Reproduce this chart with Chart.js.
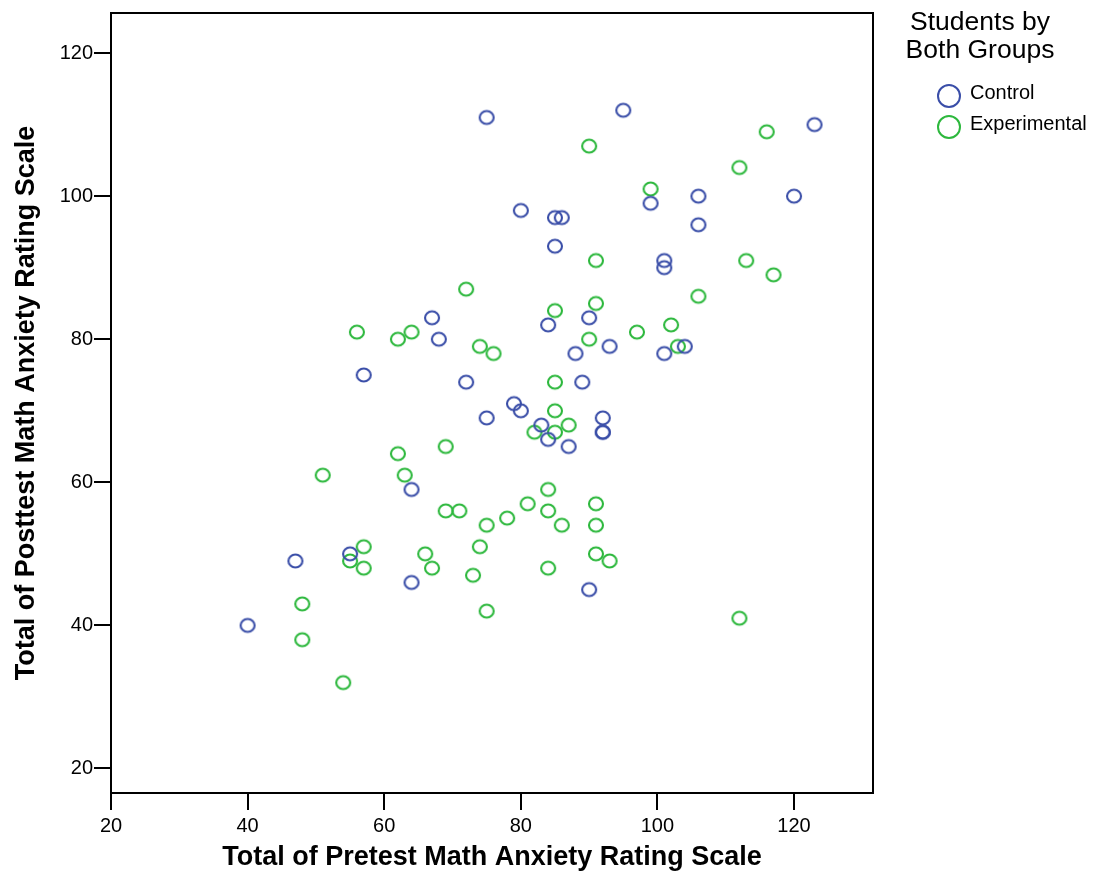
<!DOCTYPE html>
<html><head><meta charset="utf-8">
<script src="https://cdn.jsdelivr.net/npm/chart.js@4/dist/chart.umd.min.js"></script>
<style>html,body{margin:0;padding:0;background:#fff;}#wrap{width:1098px;height:879px;}</style>
</head><body><div id="wrap"><canvas id="c" width="1098" height="879"></canvas></div>
<script>
// ---- data ----
const seriesNames = ['Control', 'Experimental'];
const controlX = [75,95,123,80,85,86,99,106,106,120,85,101,101,67,90,84,68,57,93,88,104,101,72,89,79,80,75,92,92,92,83,84,87,64,47,55,64,90,40];
const controlY = [111,112,110,98,97,97,99,100,96,100,93,91,90,83,83,82,80,75,79,78,79,78,74,74,71,70,69,69,67,67,68,66,65,59,49,50,46,45,40];
const experimentalX = [90,99,116,112,91,113,117,72,106,91,85,56,64,62,97,102,74,76,90,103,85,85,87,82,85,69,62,63,51,84,69,71,81,91,84,78,75,86,91,74,57,66,91,55,93,57,67,84,73,48,75,112,48,54];
const experimentalY = [107,101,109,104,91,91,89,87,86,85,84,81,81,80,81,82,79,78,80,79,74,70,68,67,67,65,64,61,61,59,56,56,57,57,56,55,54,54,54,51,51,50,50,49,49,48,48,48,47,43,42,41,38,32];
const xTickValues = [20,40,60,80,100,120];
const yTickValues = [20,40,60,80,100,120];
const legendTitle = ['Students by', 'Both Groups'];
const xTitle = 'Total of Pretest Math Anxiety Rating Scale';
const yTitle = 'Total of Posttest Math Anxiety Rating Scale';

const FONT = '"Liberation Sans", Arial, Helvetica, sans-serif';
const colors = ['#3a4ea8', '#2db83d'];

function ring(color) {
  const c = document.createElement('canvas');
  c.width = 18; c.height = 18;
  const g = c.getContext('2d');
  g.strokeStyle = color; g.lineWidth = 2.1;
  g.beginPath(); g.ellipse(9, 9, 7, 6.5, 0, 0, Math.PI * 2); g.stroke();
  return c;
}
function pts(xs, ys) { return xs.map((x, i) => ({x: x, y: ys[i]})); }

const framePlugin = {
  id: 'frame',
  afterDraw(chart) {
    const a = chart.chartArea, ctx = chart.ctx;
    ctx.save();
    ctx.strokeStyle = '#000'; ctx.lineWidth = 2;
    ctx.strokeRect(a.left, a.top, a.right - a.left, a.bottom - a.top);
    ctx.restore();
  }
};
const legendPlugin = {
  id: 'sideLegend',
  afterDraw(chart) {
    const ctx = chart.ctx;
    ctx.save();
    ctx.fillStyle = '#000';
    ctx.textBaseline = 'alphabetic';
    ctx.textAlign = 'center';
    ctx.font = '26.5px ' + FONT;
    ctx.fillText(legendTitle[0], 980, 30);
    ctx.fillText(legendTitle[1], 980, 58);
    ctx.font = '20px ' + FONT;
    ctx.textAlign = 'left';
    chart.data.datasets.forEach((ds, i) => {
      const cy = 96 + i * 31;
      ctx.strokeStyle = colors[i]; ctx.lineWidth = 2;
      ctx.beginPath(); ctx.arc(949, cy, 11, 0, Math.PI * 2); ctx.stroke();
      ctx.fillStyle = '#000';
      ctx.fillText(ds.label, 970, cy + 3);
    });
    ctx.restore();
  }
};

new Chart(document.getElementById('c'), {
  type: 'scatter',
  data: {
    datasets: [
      {label: seriesNames[0], data: pts(controlX, controlY), pointStyle: ring(colors[0]), borderColor: colors[0], backgroundColor: 'transparent'},
      {label: seriesNames[1], data: pts(experimentalX, experimentalY), pointStyle: ring(colors[1]), borderColor: colors[1], backgroundColor: 'transparent'}
    ]
  },
  options: {
    responsive: false,
    animation: false,
    devicePixelRatio: 1,
    layout: {padding: {top: 11, right: 225, left: 0, bottom: 0}},
    plugins: {legend: {display: false}, tooltip: {enabled: false}},
    scales: {
      x: {
        type: 'linear', position: 'bottom', min: 20, max: 131.56,
        afterBuildTicks(s) { s.ticks = xTickValues.map(v => ({value: v})); },
        afterFit(s) { s.height = 86; },
        grid: {drawOnChartArea: false, drawTicks: true, tickLength: 17, color: '#000', lineWidth: 2},
        border: {display: false},
        ticks: {autoSkip: false, maxRotation: 0, padding: 4, color: '#000', font: {family: FONT, size: 20}},
        title: {display: true, text: xTitle, color: '#000', font: {family: FONT, size: 27, weight: 'bold'}, padding: {top: 5, bottom: 5}}
      },
      y: {
        type: 'linear', position: 'left', min: 16.57, max: 125.6,
        afterBuildTicks(s) { s.ticks = yTickValues.map(v => ({value: v})); },
        afterFit(s) { s.width = 111; },
        grid: {drawOnChartArea: false, drawTicks: true, tickLength: 17, color: '#000', lineWidth: 2},
        border: {display: false},
        ticks: {autoSkip: false, padding: 1, color: '#000', font: {family: FONT, size: 20}},
        title: {display: true, text: yTitle, color: '#000', font: {family: FONT, size: 27, weight: 'bold'}, padding: {top: 10, bottom: 10}}
      }
    }
  },
  plugins: [framePlugin, legendPlugin]
});
</script></body></html>
